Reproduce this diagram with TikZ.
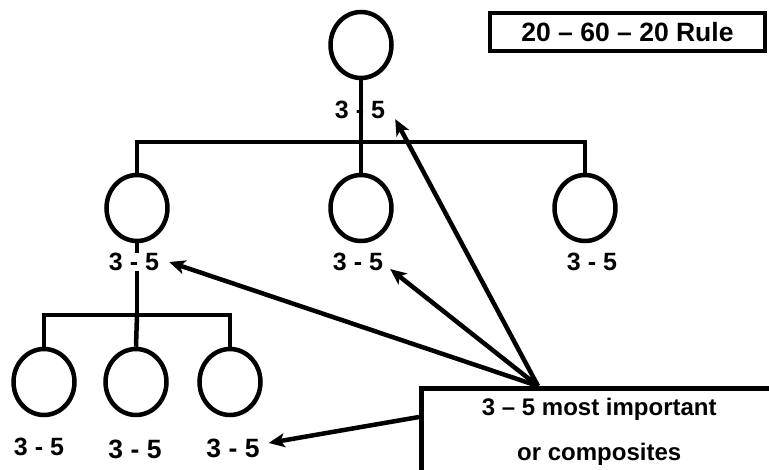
\documentclass[tikz,border=0pt]{standalone}
\usepackage{fontspec}
\setmainfont{Liberation Sans}
\usetikzlibrary{shapes.geometric, arrows.meta}
\begin{document}
\begin{tikzpicture}[x=1pt, y=-1pt,
  every node/.style={font=\fontsize{24}{28}\selectfont\bfseries},
  member/.style={draw, line width=4.5pt, ellipse, minimum width=61pt, minimum height=66pt, inner sep=0pt},
  count/.style={inner sep=0pt, font=\fontsize{25}{28}\selectfont\bfseries},
  bigcount/.style={inner sep=0pt, font=\fontsize{26.5}{28}\selectfont\bfseries},
  link/.style={line width=4.5pt},
  pointer/.style={line width=4.5pt, -{Stealth[length=16pt, width=14pt, inset=4pt]}},
  framebox/.style={draw, line width=4.5pt, rectangle}
]
\useasboundingbox (0,0) rectangle (769,469);
\clip (0,0) rectangle (769,469);

% members of the hierarchy
\node[member] (c0) at (361,45) {};
\node[member] (c1) at (137,208) {};
\node[member] (c2) at (361,208) {};
\node[member] (c3) at (585,208) {};
\node[member] (c4) at (44,382) {};
\node[member] (c5) at (136,382) {};
\node[member] (c6) at (230,382) {};

% branch points of the bars
\coordinate (j0) at (361,142);
\coordinate (j1) at (137,315);

% tree connectors
\draw[link] (c0.south) -- (c2.north);
\draw[link] (c1.north) |- (j0) -| (c3.north);
\draw[link] (c1.south) -- (c1.south |- j1);
\draw[link] (c4.north) |- (j1) -| (c6.north);
\draw[link] (j1) -- (c5.north);

% span-of-control labels
\node[count] (l0) at (360,110) {3 - 5};
\node[count, fill=white] (l1) at (134,262) {3 - 5};
\node[count] (l2) at (358,262) {3 - 5};
\node[count] (l3) at (592,262) {3 - 5};
\node[count] (l4) at (39,447) {3 - 5};
\node[bigcount] (l5) at (135,449) {3 - 5};
\node[bigcount] (l6) at (233,448) {3 - 5};

% title box
\node[framebox, minimum width=275pt, minimum height=38pt,
      font=\fontsize{26.5}{30}\selectfont\bfseries] (rule) at (627.5,32) {20 – 60 – 20 Rule};

% note box, running off the lower right corner
\node[framebox, align=center, minimum width=356pt, minimum height=88pt, anchor=north west,
      font=\fontsize{24}{45}\selectfont\bfseries] (note) at (419,386)
      {3 – 5 most important\\or composites};

% pointers from the note to the labels
\draw[pointer] ([xshift=119pt]note.north west) -- ([xshift=10pt]l0.south east);
\draw[pointer] ([xshift=119pt]note.north west) -- ([xshift=10pt]l1.east);
\draw[pointer] ([xshift=119pt]note.north west) -- ([xshift=7pt, yshift=2pt]l2.south east);
\draw[pointer] ([yshift=-31pt]note.north west) -- ([shift={(9pt,5pt)}]l6.east);
\end{tikzpicture}
\end{document}
